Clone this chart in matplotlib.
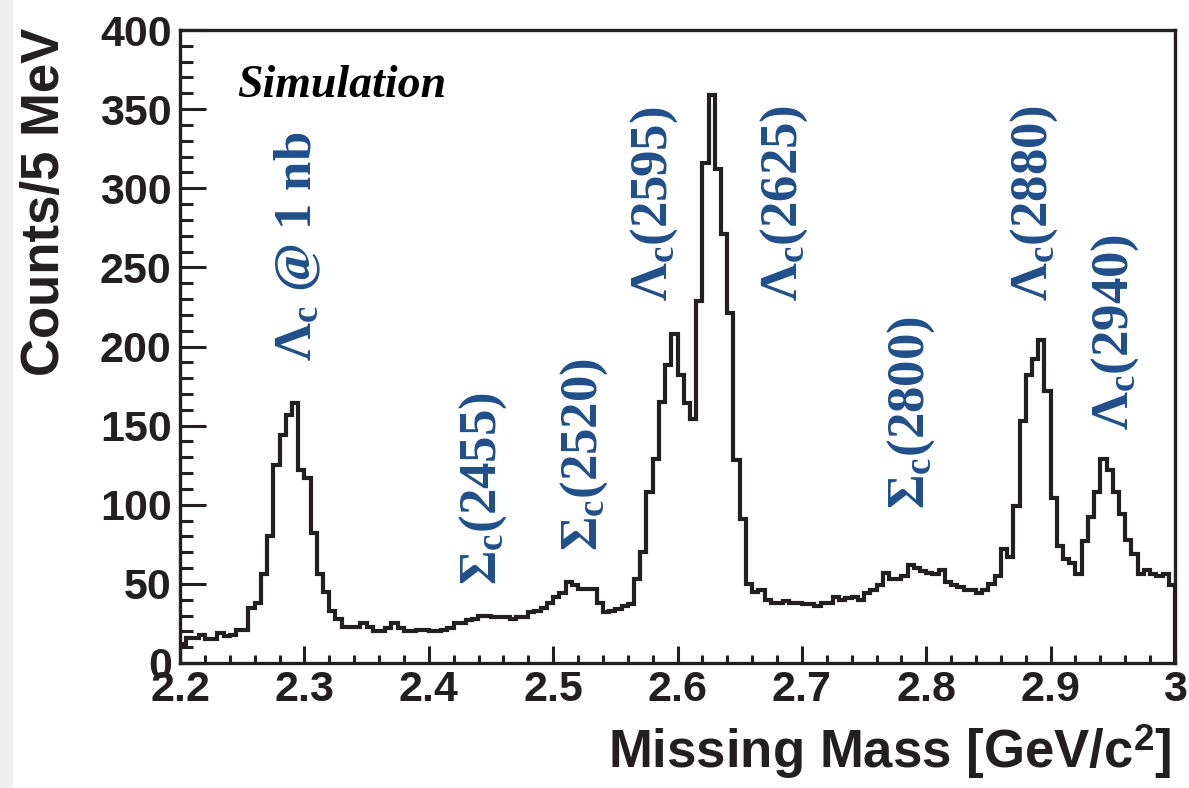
import numpy as np
import matplotlib
matplotlib.use("Agg")
import matplotlib.pyplot as plt
from matplotlib.ticker import MultipleLocator
from matplotlib.patches import Rectangle

# ---------------- data ----------------
mass_min = 2.2
mass_max = 3.0
bin_width = 0.005
counts = [
    12, 16, 16, 18, 15, 15, 19, 17, 18, 21,
    21, 35, 38, 56, 80, 125, 144, 157, 164, 122,
    117, 82, 56, 45, 33, 28, 23, 23, 23, 25,
    23, 20, 20, 22, 25, 22, 20, 20, 21, 21,
    20, 20, 21, 22, 25, 25, 27, 28, 30, 30,
    29, 29, 29, 28, 29, 29, 32, 33, 35, 38,
    42, 44, 51, 49, 47, 47, 47, 38, 32, 33,
    34, 36, 37, 53, 70, 108, 129, 165, 188, 208,
    182, 164, 154, 229, 316, 359, 312, 271, 221, 128,
    91, 50, 45, 46, 40, 38, 38, 39, 38, 38,
    37, 37, 36, 38, 38, 42, 40, 41, 42, 40,
    44, 46, 49, 57, 53, 53, 55, 62, 60, 58,
    57, 56, 59, 51, 49, 48, 46, 46, 44, 46,
    50, 55, 72, 67, 99, 153, 182, 192, 204, 172,
    104, 74, 66, 63, 56, 77, 92, 108, 129, 122,
    108, 94, 78, 69, 56, 59, 56, 55, 56, 49,
]
edges = np.linspace(mass_min, mass_max, len(counts) + 1)

label_texts = [r"Λ$_\mathrm{c}$ @ 1 nb", r"Σ$_\mathrm{c}$(2455)", r"Σ$_\mathrm{c}$(2520)",
               r"Λ$_\mathrm{c}$(2595)", r"Λ$_\mathrm{c}$(2625)", r"Σ$_\mathrm{c}$(2800)",
               r"Λ$_\mathrm{c}$(2880)", r"Λ$_\mathrm{c}$(2940)"]
label_x = [2.295, 2.444, 2.525, 2.581, 2.686, 2.788, 2.887, 2.952]
label_y = [191, 49, 71, 229, 229, 97, 229, 147]

x_ticks = [2.2, 2.3, 2.4, 2.5, 2.6, 2.7, 2.8, 2.9, 3.0]
x_ticklabels = ["2.2", "2.3", "2.4", "2.5", "2.6", "2.7", "2.8", "2.9", "3"]
y_ticks = [0, 50, 100, 150, 200, 250, 300, 350, 400]

# ---------------- style ----------------
plt.rcParams["mathtext.fontset"] = "custom"
plt.rcParams["mathtext.rm"] = "Liberation Serif:bold"
plt.rcParams["mathtext.it"] = "Liberation Serif:bold:italic"
plt.rcParams["mathtext.bf"] = "Liberation Serif:bold"
plt.rcParams["mathtext.sf"] = "Liberation Sans:bold"

W, H = 1189, 788
fig = plt.figure(figsize=(W / 100, H / 100), dpi=100)
fig.patches.append(Rectangle((0, 0), 12 / W, 1, transform=fig.transFigure,
                             color="#eeeeee", zorder=0))

ax = fig.add_axes([180 / W, 1 - 663 / H, (1175 - 180) / W, (663 - 30) / H])

ax.stairs(counts, edges, color="#231f20", linewidth=3.0)

ax.set_xlim(mass_min, mass_max)
ax.set_ylim(0, 400)

for sp in ax.spines.values():
    sp.set_linewidth(2.4)
    sp.set_color("#231f20")

ax.set_xticks(x_ticks)
ax.set_xticklabels(x_ticklabels)
ax.set_yticks(y_ticks)
ax.xaxis.set_minor_locator(MultipleLocator(0.02))
ax.yaxis.set_minor_locator(MultipleLocator(10))
ax.tick_params(axis="x", which="major", direction="in", length=12, width=2.2,
               pad=5, labelsize=31, color="#231f20")
ax.tick_params(axis="x", which="minor", direction="in", length=6, width=2.2,
               color="#231f20")
ax.tick_params(axis="y", which="major", direction="in", length=19, width=2.2,
               pad=6, labelsize=31, color="#231f20")
ax.tick_params(axis="y", which="minor", direction="in", length=9.5, width=2.2,
               color="#231f20")
for lab in ax.get_xticklabels() + ax.get_yticklabels():
    lab.set_fontfamily("Liberation Sans")
    lab.set_fontweight("bold")
    lab.set_color("#231f20")

label_color = "#1f4e89"
for t, x, y in zip(label_texts, label_x, label_y):
    ax.text(x, y, t, rotation=90, ha="center", va="bottom", color=label_color,
            fontsize=38, fontfamily="Liberation Serif", fontweight="bold")

fig.text(237 / W, 1 - 97 / H, "Simulation", ha="left", va="baseline",
         fontsize=33, fontfamily="Liberation Serif", fontstyle="italic",
         fontweight="bold", color="black")

fig.text(45 / W, 1 - 28 / H, "Counts/5 MeV", rotation=90, ha="center", va="top",
         fontsize=38, fontfamily="Liberation Sans", fontweight="bold",
         color="#231f20")
fig.text(1172 / W, 1 - 752 / H, r"Missing Mass [GeV/c$^\mathsf{2}$]", ha="right",
         va="center", fontsize=38, fontfamily="Liberation Sans", fontweight="bold",
         color="#231f20")

fig.savefig("out.png", dpi=100)
